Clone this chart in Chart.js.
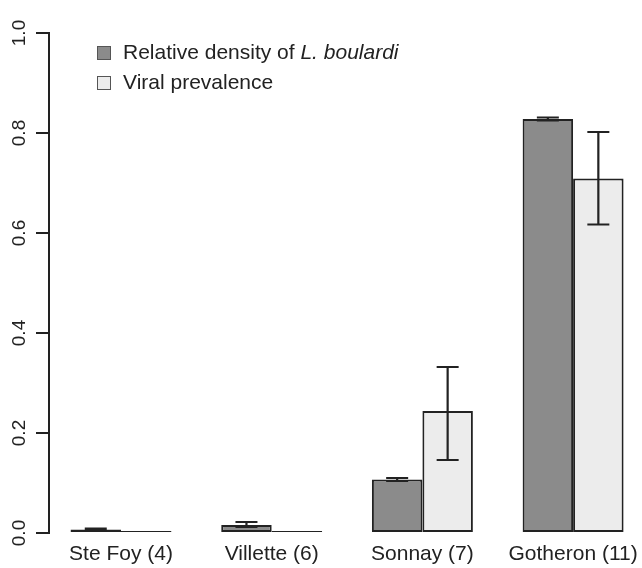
<!DOCTYPE html>
<html>
<head>
<meta charset="utf-8">
<script src="https://cdn.jsdelivr.net/npm/chart.js@4/dist/chart.umd.min.js"></script>
<style>
  html, body { margin: 0; padding: 0; background: #fff; }
  #wrap { width: 642px; height: 568px; }
</style>
</head>
<body>
<div id="wrap"><canvas id="c" width="642" height="568"></canvas></div>
<script>
// Sites (number of samples) and per-site values
const categories = ['Ste Foy (4)', 'Villette (6)', 'Sonnay (7)', 'Gotheron (11)'];
const density = [0.007, 0.016, 0.107, 0.828];
const densityLow = [0.005, 0.012, 0.104, 0.825];
const densityHigh = [0.009, 0.022, 0.110, 0.831];
const prevalence = [0, 0, 0.244, 0.709];
const prevalenceLow = [0, 0, 0.146, 0.617];
const prevalenceHigh = [0, 0, 0.332, 0.802];
const yTicks = [0, 0.2, 0.4, 0.6, 0.8, 1.0];

const FONT = '"Liberation Sans", Arial, Helvetica, sans-serif';
const INK = '#222';

// Vertical error bars with caps, positioned from the bar elements and y scale
const errorBars = {
  id: 'errorBars',
  afterDatasetsDraw(chart) {
    const ctx = chart.ctx;
    const yScale = chart.scales.y;
    chart.data.datasets.forEach((ds, di) => {
      const meta = chart.getDatasetMeta(di);
      meta.data.forEach((bar, i) => {
        const lo = ds.errLow[i], hi = ds.errHigh[i];
        if (hi <= lo) return;
        const x = bar.x;
        const y1 = yScale.getPixelForValue(lo);
        const y2 = yScale.getPixelForValue(hi);
        const cap = 11;
        ctx.save();
        ctx.strokeStyle = INK;
        ctx.lineWidth = 2.2;
        ctx.beginPath();
        ctx.moveTo(x, y1); ctx.lineTo(x, y2);
        ctx.moveTo(x - cap, y1); ctx.lineTo(x + cap, y1);
        ctx.moveTo(x - cap, y2); ctx.lineTo(x + cap, y2);
        ctx.stroke();
        ctx.restore();
      });
    });
  }
};

// Legend with an italic species name
const boxLegend = {
  id: 'boxLegend',
  afterDraw(chart) {
    const ctx = chart.ctx;
    const entries = [
      { fill: chart.data.datasets[0].backgroundColor, parts: [['Relative density of ', ''], ['L. boulardi', 'italic ']] },
      { fill: chart.data.datasets[1].backgroundColor, parts: [['Viral prevalence', '']] }
    ];
    const x0 = 97, textX = 123, y0 = 53, step = 30, box = 14;
    ctx.save();
    entries.forEach((e, k) => {
      const cy = y0 + k * step;
      ctx.fillStyle = e.fill;
      ctx.fillRect(x0, cy - box / 2, box, box);
      ctx.strokeStyle = '#555';
      ctx.lineWidth = 1;
      ctx.strokeRect(x0 + 0.5, cy - box / 2 + 0.5, box - 1, box - 1);
      let tx = textX;
      ctx.fillStyle = INK;
      ctx.textBaseline = 'middle';
      ctx.textAlign = 'left';
      e.parts.forEach(([txt, style]) => {
        ctx.font = style + '21px ' + FONT;
        ctx.fillText(txt, tx, cy);
        tx += ctx.measureText(txt).width;
      });
    });
    ctx.restore();
  }
};

const toPoints = vals => vals.map((v, i) => ({ x: i + 1, y: v }));

new Chart(document.getElementById('c'), {
  type: 'bar',
  data: {
    datasets: [
      {
        label: 'Relative density of L. boulardi',
        data: toPoints(density),
        errLow: densityLow, errHigh: densityHigh,
        backgroundColor: '#8b8b8b',
        borderColor: INK, borderWidth: 2, borderSkipped: false,
        categoryPercentage: 0.67, barPercentage: 1
      },
      {
        label: 'Viral prevalence',
        data: toPoints(prevalence),
        errLow: prevalenceLow, errHigh: prevalenceHigh,
        backgroundColor: '#ececec',
        borderColor: INK, borderWidth: 2, borderSkipped: false,
        minBarLength: 2,
        categoryPercentage: 0.67, barPercentage: 1
      }
    ]
  },
  options: {
    responsive: false,
    animation: false,
    devicePixelRatio: 1,
    layout: { padding: { top: 33, left: 0, right: 0, bottom: 0 } },
    plugins: { legend: { display: false }, tooltip: { enabled: false } },
    scales: {
      x: {
        type: 'linear',
        offset: false,
        min: 0.5222, max: 4.4572,
        grid: { display: false, drawTicks: false, offset: false },
        border: { display: false },
        afterBuildTicks: s => { s.ticks = categories.map((c, i) => ({ value: i + 1 })); },
        afterFit: s => { s.height = 35; s.paddingLeft = 0; s.paddingRight = 0; },
        ticks: {
          autoSkip: false, maxRotation: 0, padding: 9,
          callback: v => categories[v - 1],
          color: INK, font: { family: FONT, size: 21 }
        }
      },
      y: {
        min: 0, max: 1,
        afterBuildTicks: s => { s.ticks = yTicks.map(v => ({ value: v })); },
        afterFit: s => { s.width = 49; s.paddingTop = 0; s.paddingBottom = 0; },
        grid: { drawOnChartArea: false, tickLength: 13, color: INK, lineWidth: 2 },
        border: { display: true, color: INK, width: 2 },
        ticks: {
          minRotation: 90, maxRotation: 90, crossAlign: 'center', padding: 3,
          callback: v => v.toFixed(1),
          color: INK, font: { family: FONT, size: 19 }
        }
      }
    }
  },
  plugins: [errorBars, boxLegend]
});
</script>
</body>
</html>
